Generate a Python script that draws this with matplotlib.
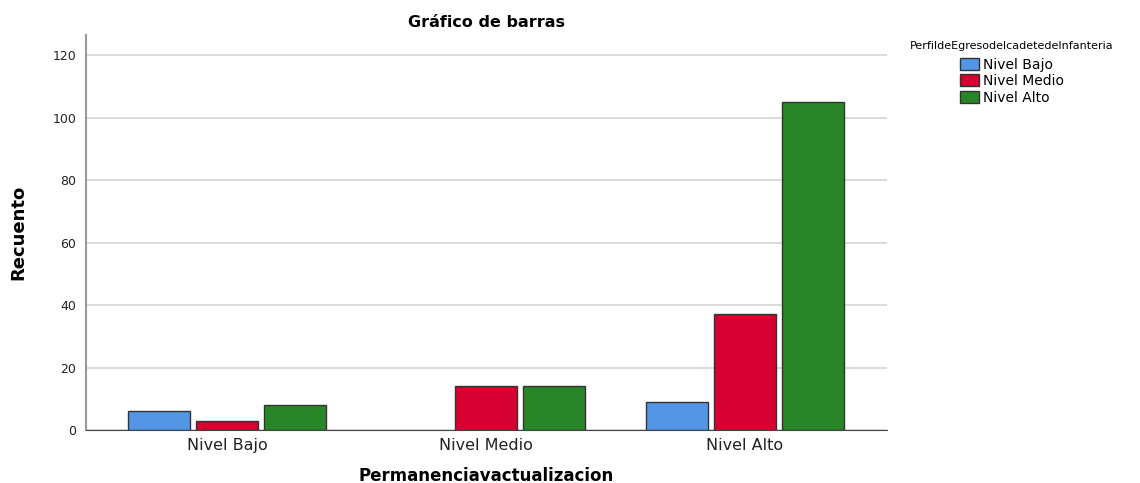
import matplotlib
matplotlib.use('Agg')
import matplotlib.pyplot as plt
import numpy as np

categories = ["Nivel Bajo", "Nivel Medio", "Nivel Alto"]
series_names = ["Nivel Bajo", "Nivel Medio", "Nivel Alto"]
bajo = [6, np.nan, 9]
medio = [3, 14, 37]
alto = [8, 14, 105]
yticks = [0, 20, 40, 60, 80, 100, 120]

colors = ['#5595E5', '#D60031', '#298628']

fig = plt.figure(figsize=(11.4, 4.83), dpi=100)
ax = fig.add_axes([0.0754, 0.1097, 0.7026, 0.8178])

x = np.arange(len(categories))
width = 0.239
step = 0.263
for i, (vals, name) in enumerate(zip([bajo, medio, alto], series_names)):
    ax.bar(x + (i - 1) * step, vals, width, color=colors[i], edgecolor='#333333',
           linewidth=1.0, label=name, zorder=3)

ax.set_xlim(-0.544, 2.548)
ax.set_ylim(0, 126.4)
ax.set_yticks(yticks)
ax.set_xticks(x)
ax.set_xticklabels(categories, fontsize=11.5, color='#222222')
ax.tick_params(axis='y', labelsize=9, length=0, pad=7, colors='#222222')
ax.tick_params(axis='x', length=0, pad=6)
ax.yaxis.grid(True, color='#d4d4d4', linewidth=1.2, zorder=0)

for s in ['top', 'right']:
    ax.spines[s].set_visible(False)
ax.spines['left'].set_color('#999999')
ax.spines['left'].set_linewidth(1.5)
ax.spines['bottom'].set_color('#444444')

ax.set_title("Gráfico de barras", fontsize=11.5, fontweight='bold', pad=6)
ax.set_ylabel("Recuento", fontsize=13, fontweight='bold', labelpad=18)
ax.set_xlabel("Permanenciavactualizacion", fontsize=12, fontweight='bold', labelpad=10)

leg = ax.legend(title="PerfildeEgresodelcadetedeInfanteria", loc='upper left',
                bbox_to_anchor=(1.022, 1.0), frameon=False, fontsize=10,
                title_fontsize=8, handlelength=1.4, handleheight=0.95,
                handletextpad=0.3, labelspacing=0.18, borderaxespad=0.0)
leg._legend_box.align = 'center'
leg._legend_box.sep = 5

fig.savefig('out.png', dpi=100)
